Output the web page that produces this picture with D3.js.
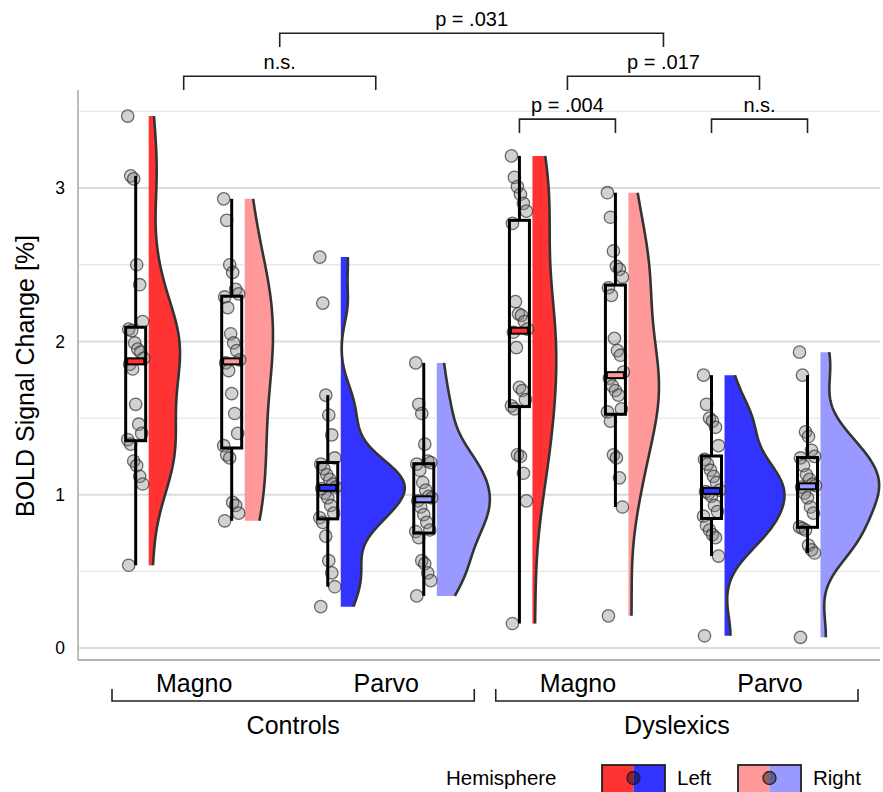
<!DOCTYPE html>
<html>
<head>
<meta charset="utf-8">
<script src="https://cdn.jsdelivr.net/npm/d3@7"></script>
<style>
  body { margin: 0; background: #fff; }
  text { font-family: "Liberation Sans", Arial, Helvetica, sans-serif; fill: #000; }
</style>
</head>
<body>
<div id="chart"></div>
<script>
// categories
const groups = ["Controls", "Dyslexics"];
const pathways = ["Magno", "Parvo"];
const hemispheres = ["Left", "Right"];

// BOLD signal change [%] per participant
const controlsMagnoLeft = [3.47, 3.08, 3.06, 2.50, 2.37, 2.13, 2.08, 2.07, 1.99, 1.95, 1.93, 1.89, 1.85, 1.82, 1.59, 1.46, 1.40, 1.36, 1.33, 1.22, 1.19, 1.12, 1.07, 0.54];
const controlsMagnoRight = [2.93, 2.79, 2.50, 2.45, 2.34, 2.31, 2.29, 2.22, 2.05, 1.99, 1.94, 1.88, 1.86, 1.81, 1.66, 1.53, 1.40, 1.32, 1.26, 1.24, 0.95, 0.93, 0.88, 0.83];
const controlsParvoLeft = [2.55, 2.25, 1.65, 1.52, 1.39, 1.24, 1.20, 1.17, 1.13, 1.10, 1.07, 1.05, 1.04, 1.01, 0.98, 0.93, 0.88, 0.85, 0.82, 0.73, 0.57, 0.49, 0.40, 0.27];
const controlsParvoRight = [1.86, 1.59, 1.53, 1.33, 1.22, 1.21, 1.20, 1.16, 1.08, 1.03, 0.99, 0.98, 0.96, 0.92, 0.87, 0.82, 0.77, 0.76, 0.72, 0.57, 0.55, 0.49, 0.44, 0.34];
const dyslexicsMagnoLeft = [3.21, 3.07, 3.01, 2.96, 2.90, 2.85, 2.77, 2.26, 2.18, 2.17, 2.13, 2.08, 2.06, 1.96, 1.70, 1.68, 1.62, 1.58, 1.56, 1.26, 1.25, 1.14, 0.96, 0.16];
const dyslexicsMagnoRight = [2.97, 2.81, 2.59, 2.49, 2.47, 2.42, 2.35, 2.30, 2.02, 1.94, 1.91, 1.80, 1.76, 1.71, 1.68, 1.65, 1.56, 1.54, 1.48, 1.26, 1.24, 1.11, 0.92, 0.21];
const dyslexicsParvoLeft = [1.78, 1.59, 1.50, 1.48, 1.44, 1.32, 1.23, 1.20, 1.16, 1.12, 1.08, 1.03, 1.02, 1.01, 0.99, 0.93, 0.89, 0.86, 0.80, 0.77, 0.74, 0.72, 0.60, 0.08];
const dyslexicsParvoRight = [1.93, 1.78, 1.41, 1.38, 1.29, 1.25, 1.24, 1.19, 1.13, 1.10, 1.07, 1.06, 1.05, 1.01, 0.98, 0.92, 0.88, 0.79, 0.78, 0.77, 0.67, 0.64, 0.62, 0.07];

// y axis ticks
const yTicks = [0, 1, 2, 3];
const yMinorTicks = [0.5, 1.5, 2.5, 3.5];

// significance annotations
const sigLabels = ["p = .004", "n.s.", "n.s.", "p = .017", "p = .031"];
const sigFrom = ["Dyslexics/Magno/Left", "Dyslexics/Parvo/Left", "Controls/Magno", "Dyslexics/Magno", "Controls"];
const sigTo = ["Dyslexics/Magno/Right", "Dyslexics/Parvo/Right", "Controls/Parvo", "Dyslexics/Parvo", "Dyslexics"];
const sigLevels = [3.45, 3.45, 3.73, 3.73, 4.01];

const cellValues = {
  "Controls/Magno/Left": controlsMagnoLeft,
  "Controls/Magno/Right": controlsMagnoRight,
  "Controls/Parvo/Left": controlsParvoLeft,
  "Controls/Parvo/Right": controlsParvoRight,
  "Dyslexics/Magno/Left": dyslexicsMagnoLeft,
  "Dyslexics/Magno/Right": dyslexicsMagnoRight,
  "Dyslexics/Parvo/Left": dyslexicsParvoLeft,
  "Dyslexics/Parvo/Right": dyslexicsParvoRight
};

// colours: pathway x hemisphere
const colors = {
  Magno: { Left: "#ff3333", Right: "#ff9999" },
  Parvo: { Left: "#3333ff", Right: "#9999ff" }
};

const width = 883, height = 792;
const svg = d3.select("#chart").append("svg")
  .attr("width", width)
  .attr("height", height);

// scales
const y = d3.scaleLinear().domain([-0.078, 3.64]).range([660, 90]);
const xGroup = d3.scaleBand().domain(groups).range([112, 858]).paddingInner(0.056);
const xPath = d3.scalePoint().domain(pathways).range([0, xGroup.bandwidth()]).padding(0.443).align(0.48);
const xHemi = d3.scalePoint().domain(hemispheres).range([-58, 38]);

const plotLeft = 78, plotRight = 880;

function pathCenter(g, p) { return xGroup(g) + xPath(p); }
function boxCenter(g, p, h) { return pathCenter(g, p) + xHemi(h); }
function pairCenter(g, p) { return d3.mean(hemispheres, h => boxCenter(g, p, h)); }
function groupCenter(g) { return d3.mean(pathways, p => pairCenter(g, p)); }
function keyX(key) {
  const k = key.split("/");
  if (k.length === 3) return boxCenter(k[0], k[1], k[2]);
  if (k.length === 2) return pairCenter(k[0], k[1]);
  return groupCenter(k[0]);
}

// gridlines
svg.append("g").selectAll("line.minor")
  .data(yMinorTicks).enter().append("line")
  .attr("x1", plotLeft).attr("x2", plotRight)
  .attr("y1", d => y(d)).attr("y2", d => y(d))
  .attr("stroke", "#e8e8e8").attr("stroke-width", 1.3);

svg.append("g").selectAll("line.major")
  .data(yTicks).enter().append("line")
  .attr("x1", plotLeft).attr("x2", plotRight)
  .attr("y1", d => y(d)).attr("y2", d => y(d))
  .attr("stroke", "#dcdcdc").attr("stroke-width", 2);

// axis lines
svg.append("line")
  .attr("x1", plotLeft).attr("x2", plotLeft)
  .attr("y1", y.range()[1]).attr("y2", y.range()[0])
  .attr("stroke", "#b5b5b5").attr("stroke-width", 1.8);
svg.append("line")
  .attr("x1", plotLeft).attr("x2", plotRight)
  .attr("y1", y.range()[0]).attr("y2", y.range()[0])
  .attr("stroke", "#b5b5b5").attr("stroke-width", 1.8);

// y axis
const yAxis = svg.append("g")
  .attr("transform", `translate(${plotLeft},0)`)
  .call(d3.axisLeft(y).tickValues(yTicks).tickSize(0).tickPadding(13).tickFormat(d3.format("d")));
yAxis.select(".domain").remove();
yAxis.selectAll("text")
  .style("font-size", "17.5px")
  .style("font-family", "'Liberation Sans', Arial, sans-serif")
  .attr("fill", "#000");

svg.append("text")
  .attr("transform", "translate(34,376) rotate(-90)")
  .attr("text-anchor", "middle")
  .style("font-size", "25px")
  .text("BOLD Signal Change [%]");

// kernel density (gaussian, nrd0 bandwidth), trimmed to data range
function density(values) {
  const sorted = values.slice().sort(d3.ascending);
  const n = sorted.length;
  const iqr = d3.quantile(sorted, 0.75) - d3.quantile(sorted, 0.25);
  const bw = 0.9 * Math.min(d3.deviation(sorted), iqr / 1.34) * Math.pow(n, -0.2);
  const [mn, mx] = d3.extent(sorted);
  return d3.range(0, 257).map(i => {
    const t = mn + (mx - mn) * i / 256;
    const dens = d3.mean(sorted, v => Math.exp(-0.5 * ((t - v) / bw) ** 2)) / (bw * Math.sqrt(2 * Math.PI));
    return [t, dens];
  });
}

const cells = [];
groups.forEach(g => pathways.forEach(p => hemispheres.forEach(h => {
  const key = `${g}/${p}/${h}`;
  const values = cellValues[key];
  const sorted = values.slice().sort(d3.ascending);
  const q1 = d3.quantile(sorted, 0.25), q3 = d3.quantile(sorted, 0.75);
  const iqr = q3 - q1;
  cells.push({
    group: g, path: p, hemi: h, values,
    cx: boxCenter(g, p, h),
    q1, q3, median: d3.quantile(sorted, 0.5),
    lo: d3.min(sorted.filter(v => v >= q1 - 1.5 * iqr)),
    hi: d3.max(sorted.filter(v => v <= q3 + 1.5 * iqr)),
    dens: density(values),
    color: colors[p][h]
  });
})));

const maxDens = d3.max(cells, c => d3.max(c.dens, d => d[1]));
const w = d3.scaleLinear().domain([0, maxDens]).range([0, 64]);
const violinGap = 13;

// half violins
const violins = svg.append("g");
cells.forEach(c => {
  const x0 = c.cx + violinGap;
  violins.append("path")
    .datum(c.dens)
    .attr("d", d3.area().y(d => y(d[0])).x0(x0).x1(d => x0 + w(d[1])))
    .attr("fill", c.color);
  violins.append("path")
    .datum(c.dens)
    .attr("d", d3.line().x(d => x0 + w(d[1])).y(d => y(d[0])))
    .attr("fill", "none")
    .attr("stroke", "#333")
    .attr("stroke-width", 2.6);
});

// jittered points
const jitter = i => ((i * 37) % 17 - 8);
const dots = svg.append("g");
cells.forEach(c => {
  dots.selectAll(null)
    .data(c.values).enter().append("circle")
    .attr("cx", (d, i) => c.cx + jitter(i))
    .attr("cy", d => y(d))
    .attr("r", 6.2)
    .attr("fill", "#7f7f7f").attr("fill-opacity", 0.35)
    .attr("stroke", "#333").attr("stroke-opacity", 0.7)
    .attr("stroke-width", 1.3);
});

// boxplots
const boxes = svg.append("g");
const boxW = 20;
cells.forEach(c => {
  boxes.append("line")
    .attr("x1", c.cx).attr("x2", c.cx)
    .attr("y1", y(c.hi)).attr("y2", y(c.q3))
    .attr("stroke", "#000").attr("stroke-width", 3);
  boxes.append("line")
    .attr("x1", c.cx).attr("x2", c.cx)
    .attr("y1", y(c.q1)).attr("y2", y(c.lo))
    .attr("stroke", "#000").attr("stroke-width", 3);
  boxes.append("rect")
    .attr("x", c.cx - boxW / 2).attr("width", boxW)
    .attr("y", y(c.q3)).attr("height", y(c.q1) - y(c.q3))
    .attr("fill", "none")
    .attr("stroke", "#000").attr("stroke-width", 3);
  boxes.append("rect")
    .attr("x", c.cx - boxW / 2 + 1.5).attr("width", boxW - 3)
    .attr("y", y(c.median) - 3).attr("height", 6)
    .attr("fill", c.color)
    .attr("stroke", "#000").attr("stroke-width", 2);
});

// x axis: pathway labels per group
groups.forEach(g => {
  const ax = svg.append("g")
    .attr("transform", `translate(${xGroup(g)},660)`)
    .call(d3.axisBottom(xPath).tickSize(0).tickPadding(14));
  ax.select(".domain").remove();
  ax.selectAll("text")
    .style("font-size", "25px")
    .style("font-family", "'Liberation Sans', Arial, sans-serif")
    .attr("fill", "#000");
});

// group brackets below axis
const groupG = svg.append("g");
groups.forEach(g => {
  const x0 = xGroup(g), x1 = xGroup(g) + xGroup.bandwidth();
  groupG.append("path")
    .attr("d", `M${x0},689V701H${x1}V689`)
    .attr("fill", "none").attr("stroke", "#222").attr("stroke-width", 1.6);
  groupG.append("text")
    .attr("x", (x0 + x1) / 2).attr("y", 734)
    .attr("text-anchor", "middle")
    .style("font-size", "25px")
    .text(g);
});

// significance brackets
const sig = svg.append("g");
sigLabels.forEach((lab, i) => {
  const xa = keyX(sigFrom[i]), xb = keyX(sigTo[i]);
  const yl = y(sigLevels[i]), yt = y(sigLevels[i] - 0.09);
  sig.append("path")
    .attr("d", `M${xa},${yt}V${yl}H${xb}V${yt}`)
    .attr("fill", "none").attr("stroke", "#222").attr("stroke-width", 1.6);
  sig.append("text")
    .attr("x", (xa + xb) / 2).attr("y", yl - 7)
    .attr("text-anchor", "middle")
    .style("font-size", "20px")
    .text(lab);
});

// legend
const legend = svg.append("g");
legend.append("text")
  .attr("x", 446).attr("y", 785)
  .style("font-size", "20.5px")
  .text("Hemisphere");
const keyX0 = [602, 738];
const labelX = [677, 813];
hemispheres.forEach((h, i) => {
  const k = legend.append("g").attr("transform", `translate(${keyX0[i]},765)`);
  k.append("rect").attr("x", 0).attr("y", 0).attr("width", 31.5).attr("height", 32)
    .attr("fill", colors.Magno[h]);
  k.append("rect").attr("x", 31.5).attr("y", 0).attr("width", 31.5).attr("height", 32)
    .attr("fill", colors.Parvo[h]);
  k.append("rect").attr("x", 0).attr("y", 0).attr("width", 63).attr("height", 32)
    .attr("fill", "none").attr("stroke", "#222").attr("stroke-width", 1.8);
  k.append("circle").attr("cx", 31.5).attr("cy", 13).attr("r", 6.5)
    .attr("fill", "#000").attr("fill-opacity", 0.4)
    .attr("stroke", "#222").attr("stroke-width", 1.3);
  legend.append("text")
    .attr("x", labelX[i]).attr("y", 785)
    .style("font-size", "20.5px")
    .text(h);
});
</script>
</body>
</html>
